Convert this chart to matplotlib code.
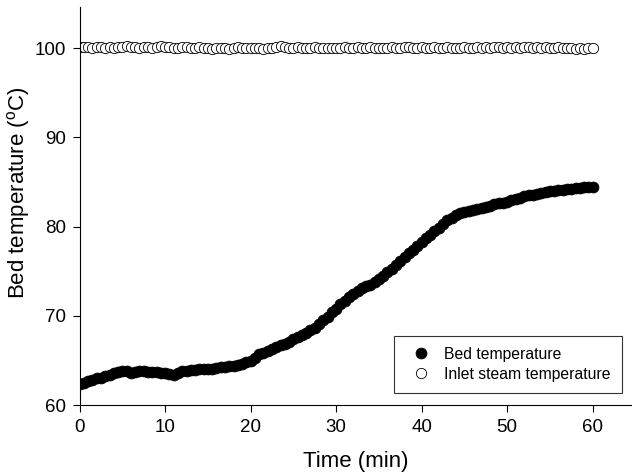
import numpy as np
import matplotlib
matplotlib.use('Agg')
import matplotlib.pyplot as plt

plt.rcParams['font.family'] = ['Liberation Sans', 'DejaVu Sans']
plt.rcParams['mathtext.fontset'] = 'custom'
plt.rcParams['mathtext.rm'] = 'Liberation Sans'

# time in minutes, sampled every 0.5 min
time_min = np.arange(0, 60.5, 0.5)

bed_temp = [
    62.4, 62.5, 62.7, 62.8, 63.0, 63.1, 63.3, 63.4, 63.6, 63.7,
    63.8, 63.8, 63.6, 63.7, 63.8, 63.8, 63.7, 63.7, 63.7, 63.6,
    63.6, 63.5, 63.4, 63.6, 63.8, 63.8, 63.9, 63.9, 64.0, 64.0,
    64.1, 64.0, 64.2, 64.3, 64.3, 64.4, 64.4, 64.5, 64.6, 64.8,
    65.0, 65.3, 65.7, 65.9, 66.1, 66.3, 66.5, 66.7, 66.9, 67.1,
    67.4, 67.6, 67.9, 68.1, 68.4, 68.7, 69.1, 69.5, 69.9, 70.4,
    70.8, 71.3, 71.7, 72.1, 72.5, 72.8, 73.1, 73.3, 73.5, 73.8,
    74.1, 74.5, 74.9, 75.3, 75.7, 76.2, 76.6, 77.0, 77.4, 77.8,
    78.3, 78.7, 79.1, 79.5, 79.9, 80.3, 80.7, 81.0, 81.3, 81.5,
    81.6, 81.8, 81.9, 82.0, 82.1, 82.2, 82.3, 82.5, 82.6, 82.7,
    82.8, 83.0, 83.1, 83.2, 83.4, 83.5, 83.6, 83.7, 83.8, 83.9,
    83.95, 84.0, 84.1, 84.15, 84.2, 84.25, 84.3, 84.35, 84.4, 84.45,
    84.5,
]

steam_temp = [
    100.1, 100.1, 100.1, 100.0, 100.1, 100.1, 100.0, 100.1, 100.0, 100.1,
    100.1, 100.2, 100.1, 100.1, 100.0, 100.1, 100.1, 100.0, 100.1, 100.2,
    100.1, 100.1, 100.0, 100.0, 100.1, 100.1, 100.0, 100.0, 100.1, 100.0,
    100.0, 99.9, 100.0, 100.0, 100.0, 99.9, 100.0, 100.1, 100.0, 100.0,
    100.0, 100.0, 100.0, 99.9, 100.0, 100.0, 100.1, 100.2, 100.1, 100.0,
    100.0, 100.1, 100.0, 100.0, 100.0, 100.1, 100.0, 100.0, 100.0, 100.0,
    100.0, 100.0, 100.1, 100.0, 100.0, 100.1, 100.0, 100.0, 100.1, 100.0,
    100.0, 100.0, 100.0, 100.1, 100.0, 100.0, 100.1, 100.1, 100.0, 100.0,
    100.1, 100.0, 100.0, 100.1, 100.0, 100.0, 100.1, 100.0, 100.0, 100.0,
    100.1, 100.0, 100.0, 100.1, 100.0, 100.1, 100.0, 100.1, 100.1, 100.0,
    100.1, 100.0, 100.1, 100.0, 100.1, 100.1, 100.0, 100.1, 100.0, 100.1,
    100.0, 100.0, 100.1, 100.0, 100.0, 100.0, 99.9, 100.0, 99.9, 100.0,
    100.0,
]

fig = plt.figure(figsize=(6.32, 4.75), dpi=100)
ax = fig.add_axes([0.126, 0.147, 0.874, 0.838])

ax.plot(time_min, bed_temp, 'o', color='black', markersize=7.8,
        markeredgewidth=0.6, label='Bed temperature')
ax.plot(time_min, steam_temp, 'o', markerfacecolor='white',
        markeredgecolor='black', markersize=7.4, markeredgewidth=0.6,
        label='Inlet steam temperature')

ax.set_xlim(0, 64.6)
ax.set_ylim(60, 104.6)
ax.set_xticks([0, 10, 20, 30, 40, 50, 60])
ax.set_yticks([60, 70, 80, 90, 100])
ax.spines['top'].set_visible(False)
ax.spines['right'].set_visible(False)
ax.tick_params(direction='out', length=5, labelsize=13.5, pad=5)

ax.set_xlabel('Time (min)', fontsize=16, labelpad=11)
ax.set_ylabel(r'Bed temperature ($^\mathregular{o}$C)', fontsize=16)
ax.yaxis.set_label_coords(-0.086, 0.535)

leg = ax.legend(loc='lower right', bbox_to_anchor=(0.99, 0.02),
                fontsize=11.3, frameon=True, fancybox=False,
                handletextpad=0.5, borderpad=0.7, labelspacing=0.3,
                borderaxespad=0.3)
leg.get_frame().set_edgecolor('black')
leg.get_frame().set_linewidth(0.8)

plt.savefig('out.png', dpi=100)
